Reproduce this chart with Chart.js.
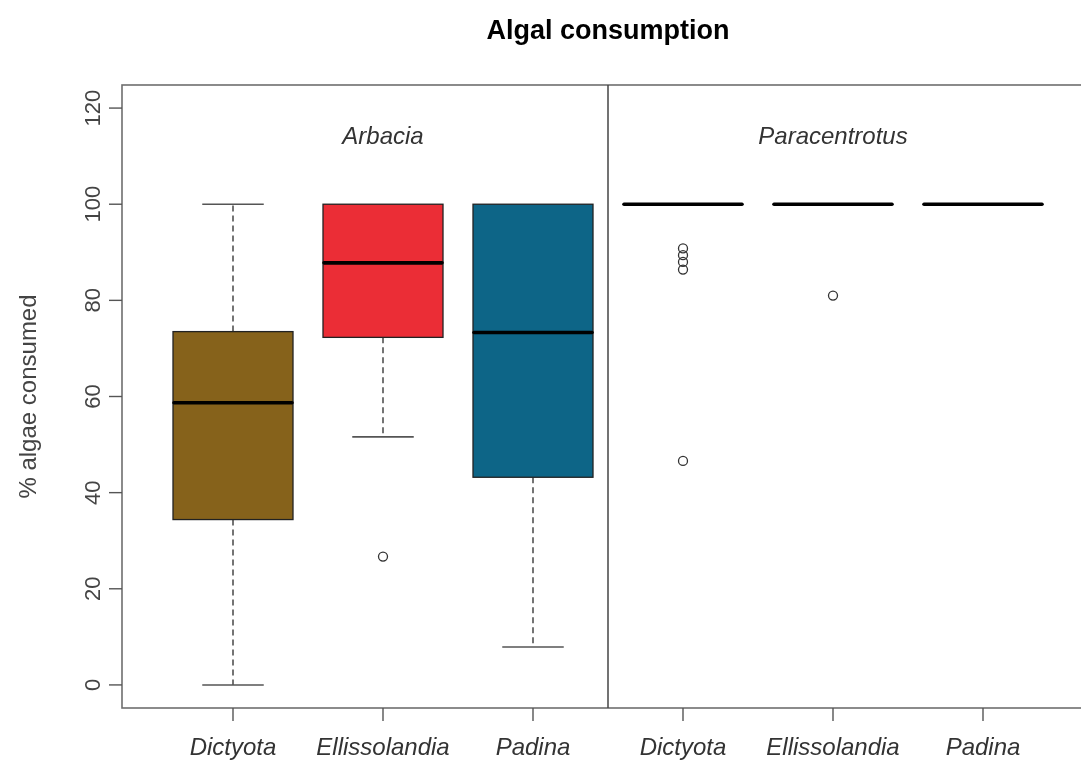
<!DOCTYPE html>
<html lang="en">
<head>
  <meta charset="UTF-8">
  <title>Algal consumption</title>
  <script src="https://cdn.jsdelivr.net/npm/chart.js"></script>
  <style>
    html, body { margin: 0; padding: 0; background: #fff; overflow: hidden; }
    #wrap { width: 1100px; height: 760px; }
  </style>
</head>
<body>
  <div id="wrap"><canvas id="algae" width="1100" height="760"></canvas></div>
  <script>
    // groups: urchin species, each with three algae
    const urchins = ['Arbacia', 'Paracentrotus'];
    const urchinPos = [2, 5];
    const algae = ['Dictyota', 'Ellissolandia', 'Padina', 'Dictyota', 'Ellissolandia', 'Padina'];
    const boxPos = [1, 2, 3, 4, 5, 6];

    // box statistics (% algae consumed)
    const whiskerLow = [0, 51.6, 7.9, 100, 100, 100];
    const q1 = [34.4, 72.3, 43.2, 100, 100, 100];
    const median = [58.7, 87.8, 73.3, 100, 100, 100];
    const q3 = [73.5, 100, 100, 100, 100, 100];
    const whiskerHigh = [100, 100, 100, 100, 100, 100];

    // outliers
    const outlierX = [2, 4, 4, 4, 4, 4, 5];
    const outlierY = [26.7, 90.8, 89.4, 88.0, 86.4, 46.6, 81.0];

    const yTicks = [0, 20, 40, 60, 80, 100, 120];
    const boxColors = ['#86621b', '#eb2d36', '#0d6587', '#ffffff', '#ffffff', '#ffffff'];

    const FONT = '"Liberation Sans", Arial, sans-serif';

    const boxPlugin = {
      id: 'boxes',
      beforeDatasetsDraw(chart) {
        const ctx = chart.ctx;
        const x = chart.scales.x, y = chart.scales.y;
        ctx.save();
        boxPos.forEach((p, i) => {
          const xl = x.getPixelForValue(p - 0.4), xr = x.getPixelForValue(p + 0.4);
          const cl = x.getPixelForValue(p - 0.205), cr = x.getPixelForValue(p + 0.205);
          const xc = x.getPixelForValue(p);
          const yq1 = y.getPixelForValue(q1[i]), yq3 = y.getPixelForValue(q3[i]);
          const ylo = y.getPixelForValue(whiskerLow[i]), yhi = y.getPixelForValue(whiskerHigh[i]);
          // whiskers
          ctx.strokeStyle = '#3a3a3a';
          ctx.lineWidth = 1.4;
          ctx.setLineDash([6, 4]);
          if (whiskerHigh[i] > q3[i]) {
            ctx.beginPath(); ctx.moveTo(xc, yq3); ctx.lineTo(xc, yhi); ctx.stroke();
          }
          if (whiskerLow[i] < q1[i]) {
            ctx.beginPath(); ctx.moveTo(xc, yq1); ctx.lineTo(xc, ylo); ctx.stroke();
          }
          ctx.setLineDash([]);
          ctx.strokeStyle = '#555';
          ctx.lineWidth = 1.6;
          if (whiskerHigh[i] > q3[i]) {
            ctx.beginPath(); ctx.moveTo(cl, yhi); ctx.lineTo(cr, yhi); ctx.stroke();
          }
          if (whiskerLow[i] < q1[i]) {
            ctx.beginPath(); ctx.moveTo(cl, ylo); ctx.lineTo(cr, ylo); ctx.stroke();
          }
          // box
          if (q3[i] > q1[i]) {
            ctx.fillStyle = boxColors[i];
            ctx.fillRect(xl, yq3, xr - xl, yq1 - yq3);
            ctx.strokeStyle = '#222';
            ctx.lineWidth = 1.3;
            ctx.strokeRect(xl, yq3, xr - xl, yq1 - yq3);
          }
          // median
          const ym = y.getPixelForValue(median[i]);
          ctx.strokeStyle = '#000';
          ctx.lineWidth = 3.6;
          ctx.lineCap = 'round';
          ctx.beginPath(); ctx.moveTo(xl + 1, ym); ctx.lineTo(xr - 1, ym); ctx.stroke();
          ctx.lineCap = 'butt';
        });
        ctx.restore();
      },
      afterDraw(chart) {
        const ctx = chart.ctx;
        const x = chart.scales.x, y = chart.scales.y;
        const a = chart.chartArea;
        ctx.save();
        // frame
        ctx.strokeStyle = '#6e6e6e';
        ctx.lineWidth = 1.6;
        ctx.strokeRect(a.left, a.top, a.right - a.left, a.bottom - a.top);
        // separator between urchin species
        const xs = x.getPixelForValue(3.5);
        ctx.strokeStyle = '#444';
        ctx.lineWidth = 1.5;
        ctx.beginPath(); ctx.moveTo(xs, a.top); ctx.lineTo(xs, a.bottom); ctx.stroke();

        // y axis ticks and rotated labels
        ctx.strokeStyle = '#555';
        ctx.lineWidth = 1.4;
        ctx.fillStyle = '#444';
        ctx.font = '22px ' + FONT;
        yTicks.forEach(v => {
          const py = y.getPixelForValue(v);
          ctx.beginPath(); ctx.moveTo(a.left, py); ctx.lineTo(a.left - 13, py); ctx.stroke();
          ctx.save();
          ctx.translate(a.left - 28, py);
          ctx.rotate(-Math.PI / 2);
          ctx.textAlign = 'center';
          ctx.textBaseline = 'middle';
          ctx.fillText(String(v), 0, 0);
          ctx.restore();
        });
        // y axis title
        ctx.save();
        ctx.translate(29, (a.top + a.bottom) / 2);
        ctx.rotate(-Math.PI / 2);
        ctx.textAlign = 'center';
        ctx.textBaseline = 'middle';
        ctx.font = '24px ' + FONT;
        ctx.fillText('% algae consumed', 0, 0);
        ctx.restore();

        // x axis ticks and italic labels
        ctx.font = 'italic 24px ' + FONT;
        ctx.textAlign = 'center';
        ctx.textBaseline = 'middle';
        ctx.fillStyle = '#333';
        boxPos.forEach((p, i) => {
          const px = x.getPixelForValue(p);
          ctx.beginPath(); ctx.moveTo(px, a.bottom); ctx.lineTo(px, a.bottom + 13); ctx.stroke();
          ctx.fillText(algae[i], px, a.bottom + 40);
        });

        // urchin panel labels
        ctx.font = 'italic 24px ' + FONT;
        urchins.forEach((u, i) => {
          ctx.fillText(u, x.getPixelForValue(urchinPos[i]), y.getPixelForValue(114));
        });

        // title
        ctx.fillStyle = '#000';
        ctx.font = 'bold 27px ' + FONT;
        ctx.fillText('Algal consumption', (a.left + a.right) / 2, 32);
        ctx.restore();
      }
    };

    new Chart(document.getElementById('algae'), {
      type: 'scatter',
      data: {
        datasets: [{
          label: 'outliers',
          data: outlierX.map((v, i) => ({ x: v, y: outlierY[i] })),
          pointStyle: 'circle',
          pointRadius: 4.5,
          pointBorderWidth: 1.3,
          pointBorderColor: '#333',
          pointBackgroundColor: 'rgba(255,255,255,0)'
        }]
      },
      options: {
        responsive: false,
        animation: false,
        events: [],
        layout: { padding: { left: 122, top: 85, right: 6, bottom: 52 } },
        plugins: { legend: { display: false }, title: { display: false }, tooltip: { enabled: false } },
        scales: {
          x: { type: 'linear', display: false, min: 0.26, max: 6.74 },
          y: { type: 'linear', display: false, min: -4.8, max: 124.8 }
        }
      },
      plugins: [boxPlugin]
    });
  </script>
</body>
</html>
